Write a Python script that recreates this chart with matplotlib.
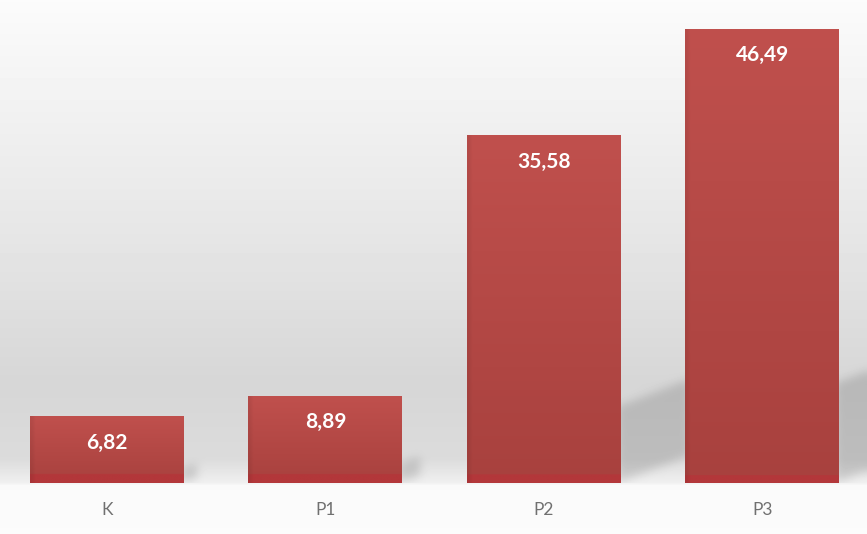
import matplotlib.pyplot as plt
import numpy as np
from matplotlib.colors import to_rgb
from matplotlib.path import Path

categories = ['K', 'P1', 'P2', 'P3']
values = [6.82, 8.89, 35.58, 46.49]
labels = ['6,82', '8,89', '35,58', '46,49']

plt.rcParams['font.family'] = ['Lato', 'DejaVu Sans']

W, H = 867, 534
fig = plt.figure(figsize=(W / 100, H / 100), dpi=100)

# background: white at top, grey towards the baseline, white below it
bg = fig.add_axes([0, 0, 1, 1], zorder=0)
bg.set_axis_off()
bg.set_xlim(0, W)
bg.set_ylim(0, H)

ax = fig.add_axes([0, 51 / H, 1, 1 - 51 / H], zorder=1)
ax.patch.set_alpha(0)
x = np.arange(len(categories))
width = 0.705
ax.set_xlim(-0.49, 3.48)
ax.set_ylim(0, 49.5)

ys = np.linspace(0, 1, H)  # 0 = top
shade = np.interp(ys, [0, 0.05, 0.45, 0.72, 0.86, 0.905, 0.91, 1],
                  [0.985, 0.975, 0.90, 0.84, 0.86, 0.94, 0.98, 0.985])
base = np.repeat(shade[:, None], W, axis=1)


def box_blur(a, r):
    for axis in (0, 1):
        c = np.cumsum(np.pad(a, [(r + 1, r) if i == axis else (0, 0) for i in (0, 1)],
                             mode='edge'), axis=axis)
        if axis == 0:
            a = (c[2 * r + 1:, :] - c[:-2 * r - 1, :]) / (2 * r + 1)
        else:
            a = (c[:, 2 * r + 1:] - c[:, :-2 * r - 1]) / (2 * r + 1)
    return a


# soft shadows cast to the right of each bar, computed in pixel space
mask = np.zeros((H, W))
yy, xx = np.mgrid[0:H, 0:W]
pts = np.column_stack([xx.ravel() + 0.5, (H - yy.ravel()) - 0.5])
for xi, v in zip(x, values):
    (rx, y0), (_, y1) = ax.transData.transform([(xi + width / 2, 0), (xi + width / 2, v)])
    h_px = y1 - y0
    dx = 0.2 * h_px
    dy = 0.4 * dx
    hs = 0.22 * h_px
    poly = Path([(rx - 4, y0), (rx + dx, y0 + dy), (rx + dx, y0 + dy + hs),
                 (rx - 4, y0 + hs), (rx - 4, y0)])
    inside = poly.contains_points(pts).reshape(H, W)
    mask = np.maximum(mask, inside * 1.0)
for _ in range(3):
    mask = box_blur(mask, 4)
# keep the shadow above the baseline
(_, base_y), = ax.transData.transform([(0, 0)])
mask[int(H - base_y):, :] = 0
img = base * (1 - 0.14 * mask)
bg.imshow(img, cmap='gray', vmin=0, vmax=1, aspect='auto',
          extent=[0, W, 0, H], origin='upper', interpolation='nearest')

top_c = np.array(to_rgb('#c0504d'))
bot_c = np.array(to_rgb('#a8413e'))
band_c = np.array(to_rgb('#b3373a'))

for xi, v, lab in zip(x, values, labels):
    left = xi - width / 2
    right = xi + width / 2
    h_px = v * 9.75

    # bar with vertical gradient
    n = 400
    t = np.linspace(0, 1, n)[:, None]
    col = top_c * (1 - t) + bot_c * t
    bar = np.repeat(col[:, None, :], 40, axis=1)
    band = int(n * min(1.0, 9 / h_px))
    bar[n - band:, :, :] = band_c
    bar[:, :1, :] *= 0.94
    ax.imshow(bar, extent=[left, right, 0, v], aspect='auto', zorder=2,
              origin='upper', interpolation='bilinear')

    ax.text(xi, v - 26 / 9.75, lab, ha='center', va='center', color='white',
            fontsize=15, fontweight='bold', zorder=3)

ax.set_xlim(-0.49, 3.48)
ax.set_ylim(0, 49.5)
ax.set_xticks(x)
ax.set_xticklabels(categories, fontsize=12.5, color='#707070')
ax.tick_params(axis='x', length=0, pad=14)
ax.set_yticks([])
for sp in ax.spines.values():
    sp.set_visible(False)

fig.savefig('out.png', dpi=100)
